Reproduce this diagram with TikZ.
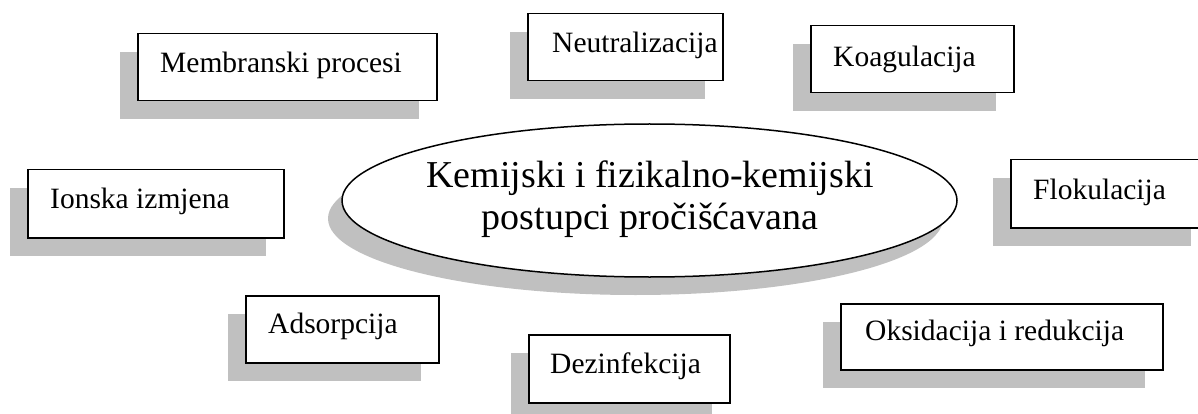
\documentclass[tikz,border=0pt]{standalone}
\usepackage{fontspec}
\setmainfont{Liberation Serif}
\usetikzlibrary{shadows,shapes.geometric}
\definecolor{shd}{HTML}{C0C0C0}
\tikzset{
  pbox/.style={draw=black, line width=1.5pt, fill=white, rectangle, anchor=north west, inner sep=0pt,
    drop shadow={shadow xshift=-18pt, shadow yshift=-18pt, fill=shd, opacity=1}},
  plabel/.style={anchor=base west, inner sep=0pt, font=\fontsize{29.5}{34}\selectfont},
  centre/.style={ellipse, draw=black, line width=1.5pt, fill=white, inner sep=0pt,
    drop shadow={shadow xshift=-14pt, shadow yshift=-18pt, fill=shd, opacity=1}},
  centrelabel/.style={align=center, inner sep=0pt, font=\fontsize{38}{42}\selectfont},
}
% name, x1, y1, x2, y2, text, text x, baseline
\newcommand\pitem[8]{%
  \node[pbox, minimum width={#4-#2}, minimum height={#5-#3}] (#1) at (#2,#3) {};
  \node[plabel] (#1-t) at (#7,#8) {#6};
}
\begin{document}
\begin{tikzpicture}[x=1pt,y=-1pt]
  \useasboundingbox (0,0) rectangle (1198,414);
  \fill[white] (0,0) rectangle (1198,414);
  \pitem{memb}{137}{33}{436}{100}{Membranski procesi}{160}{73}
  \pitem{neut}{527}{13}{722}{80}{Neutralizacija}{552}{53}
  \pitem{koag}{810}{25}{1013}{92}{Koagulacija}{833}{67}
  \pitem{ion}{27}{169}{283}{237}{Ionska izmjena}{50}{208}
  \pitem{flok}{1010}{159}{1208}{227}{Flokulacija}{1033}{200}
  \pitem{ads}{245}{295}{438}{362}{Adsorpcija}{268}{333}
  \pitem{dez}{528}{334}{729}{402}{Dezinfekcija}{550}{373}
  \pitem{oks}{840}{303}{1162}{369}{Oksidacija i redukcija}{865}{340}
  \node[centre, minimum width=615pt, minimum height=153pt] (c) at (649.5,200.5) {};
  \node[centrelabel] (c-t) at (650,199)
    {Kemijski i fizikalno-kemijski\\postupci pročišćavana};
\end{tikzpicture}
\end{document}
